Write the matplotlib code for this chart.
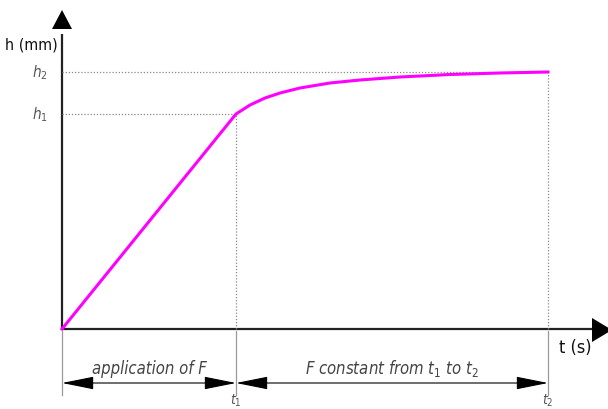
import numpy as np
import matplotlib
matplotlib.use("Agg")
import matplotlib.pyplot as plt

# Deformation curve h(t): linear loading up to t1, then creep towards h2
t1 = 17.4
t2 = 48.6
h1 = 21.5
h2 = 25.7

t_curve = [0.0, 17.4, 18.8, 20.3, 21.8, 23.8, 26.8, 29.8, 33.8, 38.8, 43.8, 48.6]
h_curve = [0.0, 21.5, 22.4, 23.1, 23.6, 24.1, 24.6, 24.9, 25.2, 25.45, 25.6, 25.7]

time_labels = ["$t_1$", "$t_2$"]
height_labels = ["$h_1$", "$h_2$"]
span_labels = ["application of F", "F constant from $t_1$ to $t_2$"]

plt.rcParams["font.family"] = ["DejaVu Sans"]
plt.rcParams["font.stretch"] = "condensed"
plt.rcParams["mathtext.fontset"] = "custom"
plt.rcParams["mathtext.it"] = "DejaVu Sans:italic"
plt.rcParams["mathtext.rm"] = "DejaVu Sans"

fig = plt.figure(figsize=(6.08, 4.10), dpi=100)
ax = fig.add_axes([0, 0, 1, 1])
ax.set_xlim(-6.2, 54.6)
ax.set_ylim(-8.0, 33.0)
ax.axis("off")

grey = "#555555"

# axes with arrowheads
ax.plot([0, 53.0], [0, 0], color="#222222", lw=1.6, solid_capstyle="butt")
ax.plot([0, 0], [0, 29.5], color="#222222", lw=1.6, solid_capstyle="butt")
ax.fill([53.0, 55.0, 53.0], [-1.3, -0.1, 1.1], color="black", lw=0)
ax.fill([-1.0, 0.0, 1.0], [30.0, 31.9, 30.0], color="black", lw=0)

# reference lines for h1/h2 and t1/t2
dot = dict(color="#888888", lw=0.9, ls=(0, (1, 1.5)))
ax.plot([0, t2], [h2, h2], **dot)
ax.plot([0, t1], [h1, h1], **dot)
ax.plot([t1, t1], [0, h1], **dot)
ax.plot([t2, t2], [0, h2], **dot)

# curve
ax.plot(t_curve, h_curve, color="#ff00ff", lw=2.2, solid_joinstyle="round")

# extension lines below the axis
for x in (0, t1, t2):
    ax.plot([x, x], [-0.2, -6.6], color="#999999", lw=0.9)

# dimension arrows
arrow = dict(arrowstyle="<|-|>,head_length=1.0,head_width=0.2", color="black",
             lw=0.8, shrinkA=0, shrinkB=0, mutation_scale=20)
ax.annotate("", xy=(0, -5.4), xytext=(t1, -5.4), arrowprops=arrow)
ax.annotate("", xy=(t1, -5.4), xytext=(t2, -5.4), arrowprops=arrow)

ax.text(t1 / 2, -3.9, span_labels[0], ha="center", va="center",
        fontsize=12, style="italic", color="#444444")
ax.text((t1 + t2) / 2, -3.9, span_labels[1], ha="center", va="center",
        fontsize=12, style="italic", color="#444444")

# tick-like labels
ax.text(t1, -7.05, time_labels[0], ha="center", va="center", fontsize=10, color=grey)
ax.text(t2, -7.05, time_labels[1], ha="center", va="center", fontsize=10, color=grey)
ax.text(-1.4, h2, height_labels[1], ha="right", va="center", fontsize=11, color=grey)
ax.text(-1.4, h1, height_labels[0], ha="right", va="center", fontsize=11, color=grey)

# axis titles
ax.text(-0.4, 28.5, "h (mm)", ha="right", va="center", fontsize=11.5, color="#111111")
ax.text(49.7, -1.8, "t (s)", ha="left", va="center", fontsize=13, color="#111111")

fig.savefig("out.png", dpi=100)
